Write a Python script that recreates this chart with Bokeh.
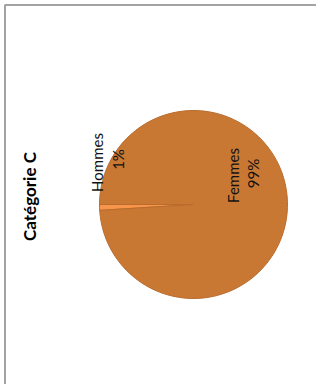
import math
from bokeh.plotting import figure
from bokeh.models import Range1d, ColumnDataSource
from bokeh.core.properties import value
from bokeh.embed import file_html
from bokeh.resources import INLINE

# ---- data ----
categories = ["Hommes", "Femmes"]
shares = [1, 99]
colors = ["#F7954A", "#C97834"]
title_text = "Catégorie C"

# ---- layout constants (data units == pixels, y up) ----
W, H = 316, 384
CX, CY, R = 193, 180, 94
START = math.pi  # first slice starts at the left

total = sum(shares)
starts, ends = [], []
a = START
for s in shares:
    starts.append(a)
    a += 2 * math.pi * s / total
    ends.append(a)

src = ColumnDataSource(dict(cat=categories, start=starts, end=ends, color=colors))

p = figure(width=W, height=H, output_backend="svg", toolbar_location=None,
           x_range=Range1d(0, W), y_range=Range1d(0, H),
           min_border=0, min_border_left=0, min_border_right=0,
           min_border_top=0, min_border_bottom=0)
p.axis.visible = False
p.grid.visible = False
p.outline_line_color = None
p.background_fill_color = "white"
p.border_fill_color = "white"

# chart-area frame (top and left edges visible, others run off the page)
p.quad(left=[4.5], right=[W + 10], top=[H - 4.5], bottom=[-10],
       fill_color=None, line_color="#a3a3a3", line_width=2)

p.wedge(x=CX, y=CY, radius=R, start_angle="start", end_angle="end",
        fill_color="color", line_color="#B96C2E", line_width=1, source=src)

# labels (rotated 90°, reading upward)
name_x = [96, 232]
name_y = [222, 209]
pct_x = [117, 252]
pct_y = [225, 211]
pct_txt = [f"{s}%" for s in shares]
lab = ColumnDataSource(dict(nx=name_x, ny=name_y, px=pct_x, py=pct_y,
                            name=categories, pct=pct_txt))
common = dict(angle=math.pi / 2, text_align="center", text_baseline="middle",
              text_font=value("Lato"), text_font_size="15px", text_color="#111111")
p.text(x="nx", y="ny", text="name", source=lab, **common)
p.text(x="px", y="py", text="pct", source=lab, **common)

p.text(x=[29], y=[188], text=[title_text], angle=math.pi / 2,
       text_align="center", text_baseline="middle",
       text_font=value("Lato"), text_font_size="17px", text_font_style="bold",
       text_color="#000000")

open("out.html", "w").write(file_html(p, INLINE))
